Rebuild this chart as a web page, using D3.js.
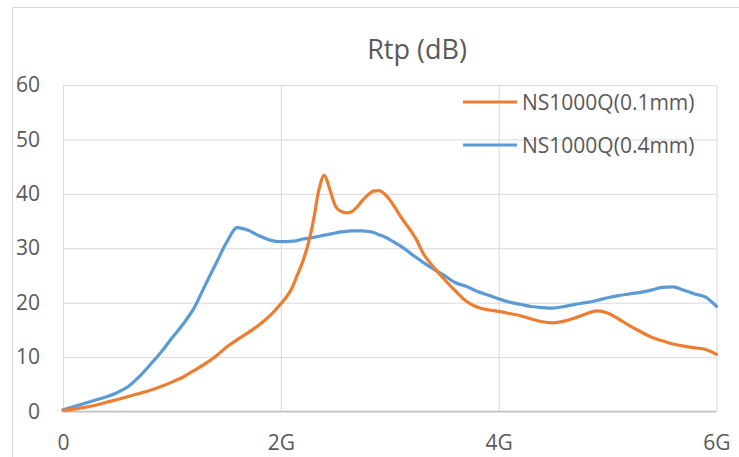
<html>
    <head>
        <script src="https://d3js.org/d3.v7.min.js"></script>
        <style>
            body { margin: 0; background: white; }
            text { font-family: "Open Sans", sans-serif; fill: #595959; }
            .gridlines line { stroke: #d9d9d9; }
            .gridlines .domain { stroke: none; }
            .axis .domain, .axis line { stroke: none; }
        </style>
    </head>
    <body>
        <svg height="457" width="739" id="chart"></svg>

        <script>
            // frequency in GHz
            const freqs = [0, 0.1, 0.2, 0.3, 0.4, 0.5, 0.6, 0.7, 0.8, 0.9, 1.0, 1.1, 1.2, 1.3, 1.4, 1.5, 1.6, 1.7, 1.8, 1.9,
                2.0, 2.05, 2.1, 2.15, 2.2, 2.25, 2.3, 2.35, 2.4, 2.45, 2.5, 2.55, 2.6, 2.65, 2.7, 2.75, 2.8, 2.85, 2.9, 2.95,
                3.0, 3.05, 3.1, 3.15, 3.2, 3.25, 3.3, 3.4, 3.5, 3.6, 3.7, 3.8, 3.9, 4.0, 4.1, 4.2, 4.3, 4.4, 4.5, 4.6,
                4.7, 4.8, 4.9, 5.0, 5.1, 5.2, 5.3, 5.4, 5.5, 5.6, 5.7, 5.8, 5.9, 6.0];

            const rtp01 = [0.2, 0.45, 0.75, 1.15, 1.7, 2.2, 2.75, 3.3, 3.9, 4.6, 5.4, 6.3, 7.5, 8.7, 10.1, 11.8, 13.2, 14.5, 15.9, 17.6,
                19.8, 21.0, 22.6, 25.0, 27.5, 30.7, 35.2, 40.8, 43.4, 40.8, 37.8, 36.8, 36.5, 36.7, 37.6, 38.8, 39.8, 40.5, 40.6, 40.0,
                38.9, 37.4, 35.8, 34.4, 33.0, 31.4, 29.3, 26.6, 24.3, 22.2, 20.3, 19.2, 18.7, 18.4, 18.0, 17.6, 17.0, 16.5, 16.3, 16.6,
                17.2, 17.9, 18.5, 18.1, 17.0, 15.8, 14.7, 13.7, 13.0, 12.4, 12.0, 11.7, 11.4, 10.5];

            const rtp04 = [0.3, 0.9, 1.5, 2.1, 2.7, 3.5, 4.6, 6.4, 8.6, 10.9, 13.5, 16.0, 18.9, 23.0, 27.0, 31.0, 33.8, 33.3, 32.3, 31.5,
                31.2, 31.2, 31.3, 31.4, 31.7, 31.8, 32.0, 32.2, 32.4, 32.6, 32.8, 33.0, 33.1, 33.2, 33.2, 33.2, 33.1, 32.9, 32.5, 32.1,
                31.6, 31.0, 30.4, 29.7, 28.9, 28.2, 27.5, 26.2, 25.0, 23.7, 23.0, 22.1, 21.4, 20.7, 20.1, 19.7, 19.3, 19.1, 19.0, 19.3,
                19.7, 20.0, 20.4, 20.9, 21.3, 21.6, 21.9, 22.3, 22.8, 22.9, 22.3, 21.6, 21.0, 19.3];

            const seriesNames = ["NS1000Q(0.1mm)", "NS1000Q(0.4mm)"];
            const seriesColors = ["#ed7d31", "#5b9bd5"];
            const xTicks = [0, 2, 4, 6];
            const xTickLabels = ["0", "2G", "4G", "6G"];
            const yTicks = [0, 10, 20, 30, 40, 50, 60];
            const title = "Rtp (dB)";

            const svg = d3.select("#chart");
            const width = svg.attr("width");
            const height = svg.attr("height");

            let margin = { "top": 85, "right": 22.5, "bottom": 45.5, "left": 63 };
            const chartWidth = width - margin.left - margin.right;
            const chartHeight = height - margin.top - margin.bottom;

            // outer chart frame
            svg.append("rect")
                .attr("x", 12.5).attr("y", 7.5)
                .attr("width", 800).attr("height", 500)
                .attr("fill", "none")
                .attr("stroke", "#d9d9d9");

            let xScale = d3.scaleLinear().domain([0, 6]).range([0, chartWidth]);
            let yScale = d3.scaleLinear().domain([0, 60]).range([chartHeight, 0]);

            let leftGridlines = d3.axisLeft(yScale).tickValues(yTicks).tickSize(-chartWidth).tickFormat("");
            svg.append("g")
                .attr("class", "gridlines")
                .attr("transform", `translate(${margin.left},${margin.top})`)
                .call(leftGridlines);

            let bottomGridlines = d3.axisBottom(xScale).tickValues(xTicks).tickSize(-chartHeight).tickFormat("");
            svg.append("g")
                .attr("class", "gridlines")
                .attr("transform", `translate(${margin.left},${margin.top + chartHeight})`)
                .call(bottomGridlines);

            // bottom axis line
            svg.append("line")
                .attr("x1", margin.left).attr("x2", margin.left + chartWidth)
                .attr("y1", margin.top + chartHeight).attr("y2", margin.top + chartHeight)
                .attr("stroke", "#bfbfbf")
                .attr("stroke-width", 1.5);

            let leftAxis = d3.axisLeft(yScale).tickValues(yTicks).tickSize(0).tickPadding(23);
            let yAxisG = svg.append("g")
                .attr("class", "y axis")
                .attr("transform", `translate(${margin.left},${margin.top})`)
                .call(leftAxis);
            yAxisG.selectAll("text").attr("font-size", 21).attr("font-family", null);

            let bottomAxis = d3.axisBottom(xScale).tickValues(xTicks).tickSize(0).tickPadding(24)
                .tickFormat((d, i) => xTickLabels[i]);
            let xAxisG = svg.append("g")
                .attr("class", "x axis")
                .attr("transform", `translate(${margin.left},${margin.top + chartHeight})`)
                .call(bottomAxis);
            xAxisG.selectAll("text").attr("font-size", 21).attr("font-family", null);

            // title
            svg.append("text")
                .attr("x", 417)
                .attr("y", 59)
                .attr("text-anchor", "middle")
                .attr("font-size", 27)
                .text(title);

            const chart = svg.append("g")
                .attr("transform", `translate(${margin.left},${margin.top})`);

            const line = d3.line()
                .x((d, i) => xScale(freqs[i]))
                .y(d => yScale(d))
                .curve(d3.curveMonotoneX);

            // blue first, orange drawn on top
            [rtp04, rtp01].forEach((vals, k) => {
                const idx = k === 0 ? 1 : 0;
                chart.append("path")
                    .datum(vals)
                    .attr("d", line)
                    .attr("fill", "none")
                    .attr("stroke", seriesColors[idx])
                    .attr("stroke-width", 3.2)
                    .attr("stroke-linejoin", "round")
                    .attr("stroke-linecap", "round");
            });

            // legend
            const legend = svg.append("g").attr("class", "legend");
            seriesNames.forEach((name, i) => {
                const ly = 102 + i * 43;
                legend.append("line")
                    .attr("x1", 463).attr("x2", 517)
                    .attr("y1", ly).attr("y2", ly)
                    .attr("stroke", seriesColors[i])
                    .attr("stroke-width", 3.2);
                legend.append("text")
                    .attr("x", 522)
                    .attr("y", ly + 7.5)
                    .attr("font-size", 21)
                    .text(name);
            });
        </script>
    </body>
</html>
